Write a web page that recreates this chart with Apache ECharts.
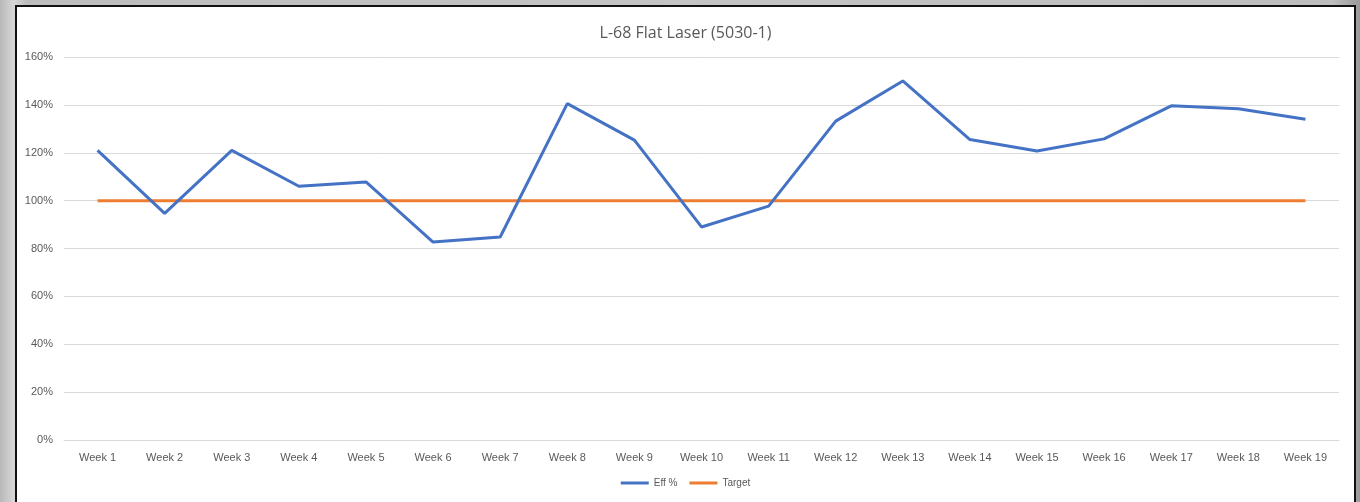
<!DOCTYPE html>
<html>
<head>
<meta charset="utf-8">
<script src="https://cdn.jsdelivr.net/npm/echarts@6/dist/echarts.min.js"></script>
<style>
html,body{margin:0;padding:0;width:1360px;height:502px;overflow:hidden;background:linear-gradient(90deg,#b8b8b8 0%,#d6d6d6 1%,#bcbcbc 2%,#c4c4c4 50%,#bdbdbd 98%,#9a9a9a 100%);}
#chart{position:absolute;left:15px;top:5px;width:1337px;height:500px;border:2px solid #111;background:#fff;}
</style>
</head>
<body>
<div id="chart"></div>
<script>
const categories = ["Week 1","Week 2","Week 3","Week 4","Week 5","Week 6","Week 7","Week 8","Week 9","Week 10","Week 11","Week 12","Week 13","Week 14","Week 15","Week 16","Week 17","Week 18","Week 19"];
const effValues = [121,94.7,121,106,107.8,82.7,84.8,140.5,125.3,89,97.7,133.2,150,125.5,120.7,125.8,139.6,138.4,134];
const targetValues = [100,100,100,100,100,100,100,100,100,100,100,100,100,100,100,100,100,100,100];
const seriesNames = ["Eff %","Target"];

const chart = echarts.init(document.getElementById('chart'));
const fontFamily = '"Liberation Sans", "Noto Sans", sans-serif';
chart.setOption({
  animation:false,
  title:{text:'L-68 Flat Laser (5030-1)',left:'center',top:13,textStyle:{fontFamily:'"Open Sans", "Noto Sans", sans-serif',fontSize:16,fontWeight:'normal',color:'#595959'}},
  legend:{bottom:14,left:'center',itemWidth:28,itemHeight:3,itemGap:12,icon:'rect',
    textStyle:{fontFamily:fontFamily,fontSize:10,color:'#595959'},
    data:seriesNames},
  grid:{left:47,right:15,top:50,height:383},
  xAxis:{type:'category',data:categories,boundaryGap:true,
    axisLine:{show:true,lineStyle:{color:'#d9d9d9'}},axisTick:{show:false},
    axisLabel:{color:'#595959',fontSize:11,fontFamily:fontFamily,margin:12}},
  yAxis:{type:'value',min:0,max:160,interval:20,
    axisLine:{show:false},axisTick:{show:false},
    splitLine:{lineStyle:{color:'#d9d9d9',width:1}},
    axisLabel:{color:'#595959',fontSize:11,fontFamily:fontFamily,formatter:'{value}%',margin:11}},
  series:[
    {name:seriesNames[0],type:'line',data:effValues,symbol:'none',lineStyle:{color:'#4472C4',width:3},itemStyle:{color:'#4472C4'},z:3},
    {name:seriesNames[1],type:'line',data:targetValues,symbol:'none',lineStyle:{color:'#ED7D31',width:3},itemStyle:{color:'#ED7D31'},z:2}
  ]
});
</script>
</body>
</html>
